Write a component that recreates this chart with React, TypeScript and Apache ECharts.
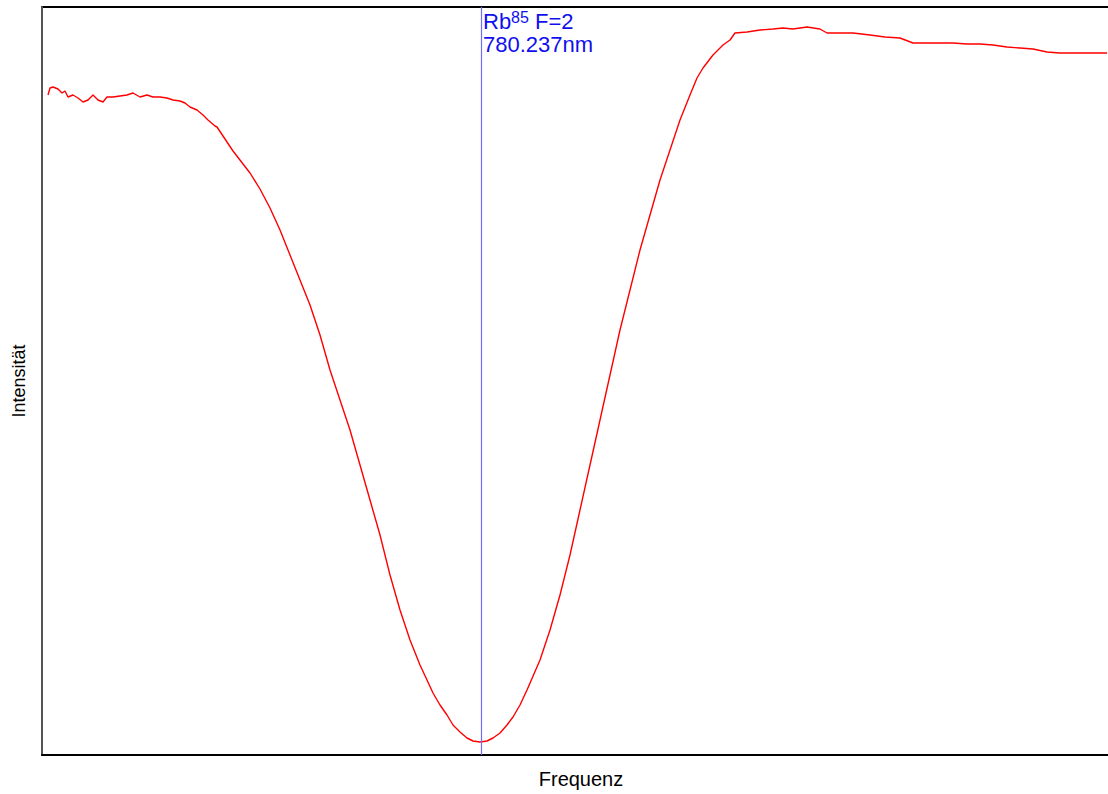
import React, { useEffect, useRef } from "react";
import * as echarts from "echarts";

// Frequency (arbitrary channel units) and intensity (arbitrary units)
const frequency = [
  6, 8, 11, 16, 20, 23, 26, 31, 36, 41, 46, 51, 56, 61, 65, 71, 78, 85, 91, 98,
  105, 111, 118, 125, 131, 138, 143, 148, 155, 161, 166, 173, 175, 191, 208, 218, 228, 238,
  248, 258, 268, 278, 288, 298, 308, 318, 328, 338, 348, 358, 368, 378, 385, 391, 398,
  405, 411, 418, 425, 431, 438, 445, 451, 458, 465, 471, 478, 485, 498, 508, 518, 528,
  538, 548, 558, 568, 578, 588, 598, 608, 618, 628, 638, 648, 655, 661, 671, 681, 688,
  693, 705, 718, 731, 741, 751, 765, 778, 785, 798, 811, 828, 843, 858, 871, 885, 898,
  911, 925, 938, 951, 965, 978, 991, 1005, 1018, 1031, 1045, 1058, 1065,
];
const intensity = [
  660, 667, 668, 666, 662, 664, 658, 660, 657, 653, 655, 660, 655, 653, 658, 658, 659, 660, 662, 658,
  660, 658, 658, 657, 655, 654, 652, 648, 645, 640, 635, 629, 628, 604, 582, 566, 547, 525,
  500, 475, 450, 420, 385, 355, 325, 290, 255, 220, 180, 145, 115, 90, 75, 62, 50,
  40, 30, 23, 17, 14, 13, 14, 17, 22, 30, 38, 50, 65, 95, 125, 160, 200,
  245, 290, 335, 380, 425, 465, 505, 540, 575, 605, 635, 660, 677, 687, 700, 710, 715,
  722, 723, 725, 726, 727, 726, 728, 726, 722, 722, 722, 720, 718, 717, 712, 712, 712,
  712, 711, 711, 710, 708, 707, 706, 703, 702, 702, 702, 702, 702,
];
const markerFrequency = [439];
const markerLines = ["Rb", "85", " F=2", "780.237nm"];
const axisNames = ["Frequenz", "Intensität"];

const FONT = "Liberation Sans, Arial, sans-serif";
const BLUE = "#1010ee";

export default function App() {
  const ref = useRef<HTMLDivElement>(null);
  useEffect(() => {
    if (!ref.current) return;
    const chart = echarts.init(ref.current, null, { renderer: "svg" });
    const data = frequency.map((f, i) => [f, intensity[i]]);
    chart.setOption({
      animation: false,
      backgroundColor: "#ffffff",
      textStyle: { fontFamily: FONT },
      grid: {
        left: 42,
        right: -12,
        top: 7,
        bottom: 39,
        show: true,
        borderColor: "#000000",
        borderWidth: 2,
        containLabel: false,
        outerBoundsMode: "none",
      },
      xAxis: {
        type: "value",
        min: 0,
        max: 1078,
        name: axisNames[0],
        nameLocation: "middle",
        nameGap: 14,
        nameTextStyle: { fontSize: 20, color: "#000", fontFamily: FONT },
        axisLine: { show: true, lineStyle: { color: "#000", width: 2 } },
        axisTick: { show: false },
        axisLabel: { show: false },
        splitLine: { show: false },
      },
      yAxis: {
        type: "value",
        min: 0,
        max: 748,
        name: axisNames[1],
        nameLocation: "middle",
        nameGap: 14,
        nameRotate: 90,
        nameTextStyle: { fontSize: 18, color: "#000", fontFamily: FONT },
        axisLine: { show: true, lineStyle: { color: "#555", width: 2 } },
        axisTick: { show: false },
        axisLabel: { show: false },
        splitLine: { show: false },
      },
      series: [
        {
          type: "line",
          data,
          showSymbol: false,
          symbol: "none",
          lineStyle: { color: "#ff0000", width: 1.4 },
          markLine: {
            silent: true,
            symbol: "none",
            label: { show: false },
            lineStyle: { color: "#6f6ff5", width: 1.2, type: "solid" },
            data: [{ xAxis: markerFrequency[0] }],
          },
        },
      ],
    });
    const px = chart.convertToPixel({ xAxisIndex: 0 }, markerFrequency[0]) as number;
    chart.setOption({
      graphic: [
        {
          type: "text",
          x: px + 2,
          y: 9,
          style: {
            text: `{b|${markerLines[0]}}{s|${markerLines[1]}}{b|${markerLines[2]}}\n{b|${markerLines[3]}}`,
            rich: {
              b: { fontSize: 22, fill: BLUE, fontFamily: FONT, lineHeight: 23, verticalAlign: "bottom" },
              s: { fontSize: 16, fill: BLUE, fontFamily: FONT, lineHeight: 23, verticalAlign: "top" },
            },
          },
        },
      ],
    });
    return () => chart.dispose();
  }, []);
  return (
    <div
      ref={ref}
      style={{ position: "fixed", left: 0, top: 0, width: 1108, height: 794, overflow: "hidden", background: "#fff" }}
    />
  );
}
